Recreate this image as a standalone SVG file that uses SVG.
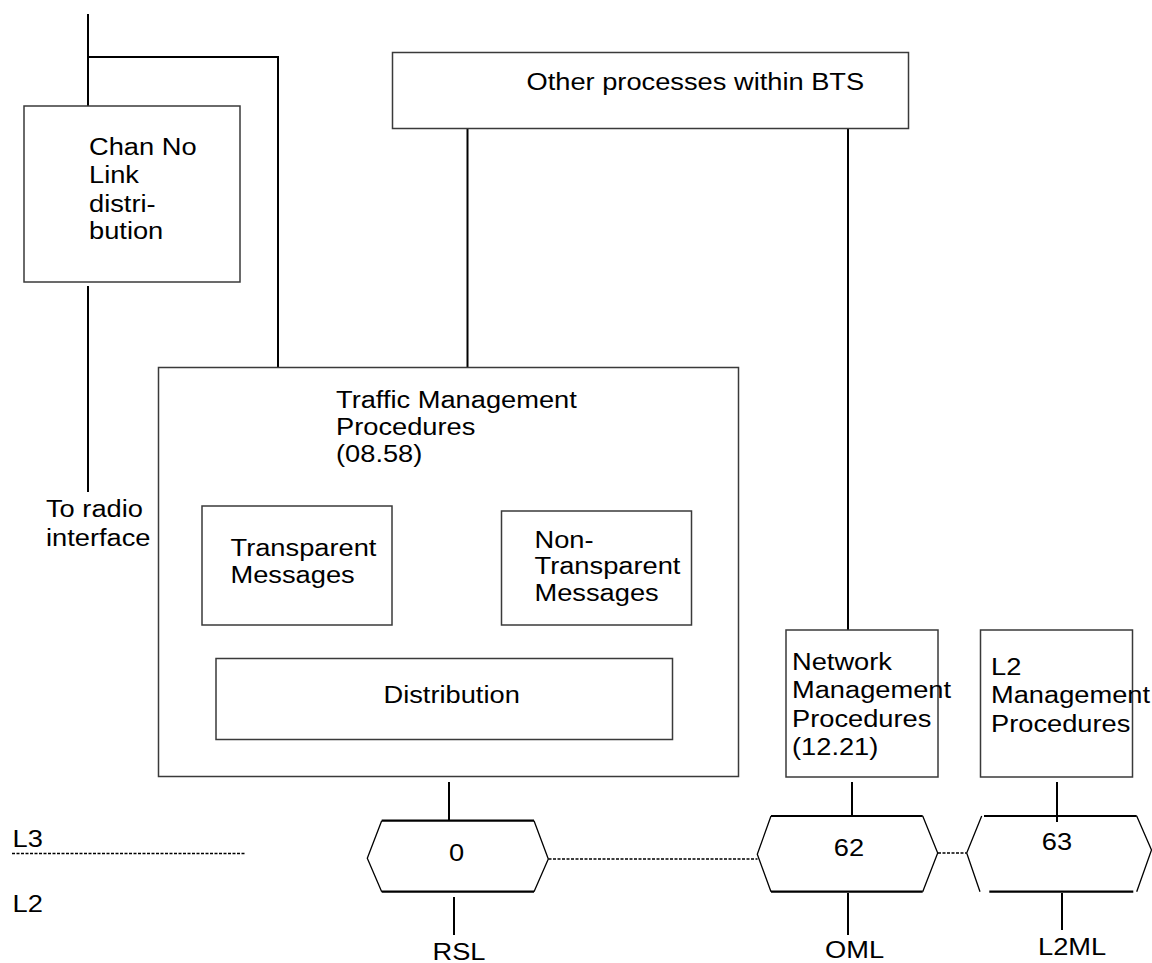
<svg xmlns="http://www.w3.org/2000/svg" width="1152" height="963" viewBox="0 0 1152 963">
<style>
.t{font-family:"Liberation Sans",Arial,sans-serif;font-size:23.5px;fill:#000}
.box{fill:#fff;stroke:#3a3a3a;stroke-width:1.5}
.ln{stroke:#000;stroke-width:2;fill:none}
.dot{stroke:#000;stroke-width:1.6;stroke-dasharray:3 1.5;fill:none}
.he{stroke:#000;stroke-width:2.2;fill:none}
.hd{stroke:#000;stroke-width:1.3;fill:none}
</style>
<rect width="1152" height="963" fill="#fff"/>
<g id="connectors">
<path class="ln" d="M88,14 V106"/>
<path class="ln" d="M88,57 H278 V367"/>
<path class="ln" d="M88,286 V492"/>
<path class="ln" d="M467.5,128 V367"/>
<path class="ln" d="M848,128 V630"/>
<path class="ln" d="M292.5,625 V658"/>
<path class="ln" d="M591,629 V658"/>
<path class="ln" d="M449,739 V777"/>
<path class="ln" d="M449,782 V821"/>
<path class="ln" d="M454,897 V935"/>
<path class="ln" d="M852,782 V816"/>
<path class="ln" d="M848,893 V935"/>
<path class="ln" d="M1057,782 V822"/>
<path class="ln" d="M1062,893 V930"/>
<path class="dot" d="M12,853.5 H245"/>
<path class="dot" d="M548.5,859 H757.5"/>
<path class="dot" d="M938,853 H966.5"/>
</g>
<g id="chan">
<rect class="box" x="24" y="106" width="216" height="176"/>
<text class="t" transform="translate(89,155) scale(1.16,1)"><tspan x="0" y="0">Chan No</tspan><tspan x="0" y="28">Link</tspan><tspan x="0" y="57">distri-</tspan><tspan x="0" y="84">bution</tspan></text>
</g>
<g id="radio">
<text class="t" transform="translate(46,517) scale(1.16,1)"><tspan x="0" y="0">To radio</tspan><tspan x="0" y="29">interface</tspan></text>
</g>
<g id="other">
<rect class="box" x="392.5" y="52.5" width="516" height="76"/>
<text class="t" transform="translate(526.5,90) scale(1.16,1)">Other processes within BTS</text>
</g>
<g id="traffic">
<rect class="box" x="158.5" y="367.5" width="580" height="409"/>
<text class="t" transform="translate(336,408) scale(1.16,1)"><tspan x="0" y="0">Traffic Management</tspan><tspan x="0" y="27">Procedures</tspan><tspan x="0" y="54">(08.58)</tspan></text>
</g>
<g id="transparent">
<rect class="box" x="202" y="506" width="190" height="119"/>
<text class="t" transform="translate(230.5,556) scale(1.16,1)"><tspan x="0" y="0">Transparent</tspan><tspan x="0" y="27">Messages</tspan></text>
</g>
<g id="nontransparent">
<rect class="box" x="501.5" y="511" width="190" height="114"/>
<text class="t" transform="translate(534.5,548) scale(1.16,1)"><tspan x="0" y="0">Non-</tspan><tspan x="0" y="26">Transparent</tspan><tspan x="0" y="53">Messages</tspan></text>
</g>
<g id="distribution">
<rect class="box" x="216" y="658.5" width="456.5" height="81"/>
<text class="t" transform="translate(383.5,703) scale(1.16,1)">Distribution</text>
</g>
<g id="network">
<rect class="box" x="786" y="630" width="152" height="147"/>
<text class="t" transform="translate(792,670) scale(1.16,1)"><tspan x="0" y="0">Network</tspan><tspan x="0" y="28">Management</tspan><tspan x="0" y="57">Procedures</tspan><tspan x="0" y="85">(12.21)</tspan></text>
</g>
<g id="l2mgmt">
<rect class="box" x="980.5" y="630" width="152" height="147"/>
<text class="t" transform="translate(991,675) scale(1.16,1)"><tspan x="0" y="0">L2</tspan><tspan x="0" y="28">Management</tspan><tspan x="0" y="57">Procedures</tspan></text>
</g>
<g id="layers">
<text class="t" transform="translate(12.5,846.5) scale(1.16,1)">L3</text>
<text class="t" transform="translate(12.5,912) scale(1.16,1)">L2</text>
</g>
<g id="hex0">
<path class="he" d="M381.7,820.7 H534 M381.7,891.7 H534"/>
<path class="hd" d="M381.7,820.7 L367.3,858.3 L381.7,891.7 M534,820.7 L548.3,859 L534,891.7"/>
<text class="t" text-anchor="middle" transform="translate(456.5,860.5) scale(1.16,1)">0</text>
<text class="t" transform="translate(432.5,960) scale(1.16,1)">RSL</text>
</g>
<g id="hex62">
<path class="he" d="M771,816 H922.7 M771,891.7 H922.7"/>
<path class="hd" d="M771,816 L757.3,854.3 L771,891.7 M922.7,816 L937.7,853 L922.7,891.7"/>
<text class="t" text-anchor="middle" transform="translate(849,856) scale(1.16,1)">62</text>
<text class="t" transform="translate(825,958) scale(1.16,1)">OML</text>
</g>
<g id="hex63">
<path class="he" d="M984,816 H1136.7 M989.3,891.7 H1133.3"/>
<path class="hd" d="M981.7,816 L966.7,853 L980,891.7 M1136.7,816 L1151.5,850 L1136.7,891.7"/>
<text class="t" text-anchor="middle" transform="translate(1057,850) scale(1.16,1)">63</text>
<text class="t" transform="translate(1038,955) scale(1.16,1)">L2ML</text>
</g>
</svg>
